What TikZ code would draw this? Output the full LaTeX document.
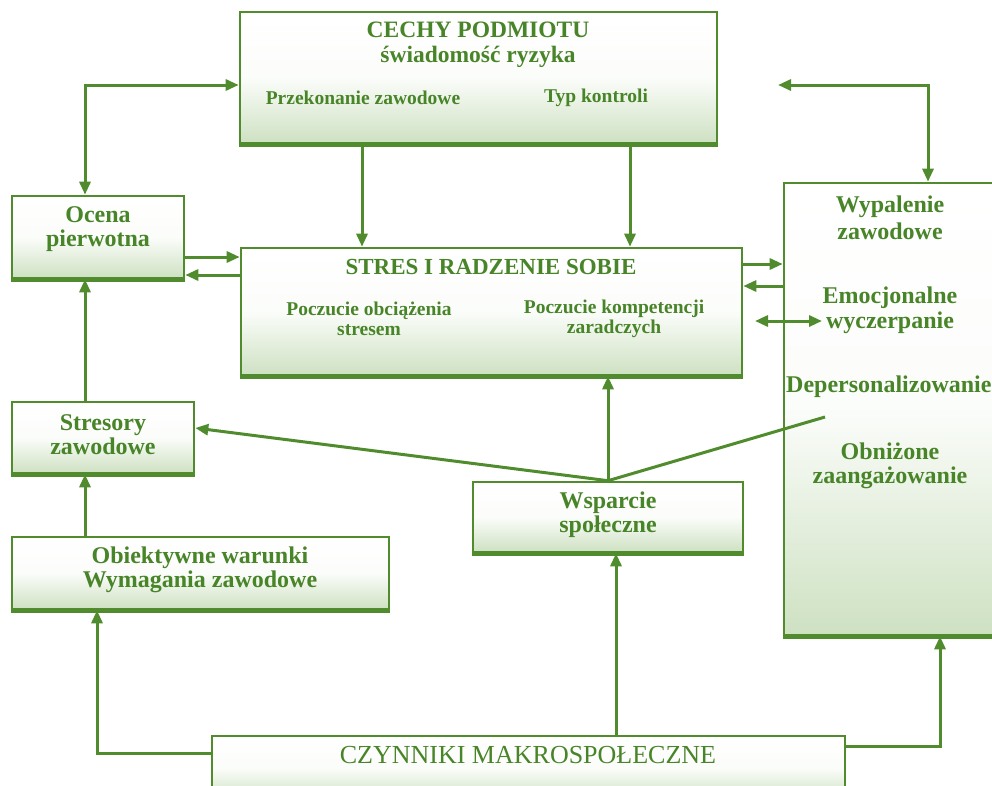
\documentclass[tikz,border=0pt]{standalone}
\usepackage{fontspec}
\setmainfont{Liberation Serif}
\usetikzlibrary{arrows.meta,calc}
\definecolor{gline}{RGB}{80,140,46}
\definecolor{gtext}{RGB}{72,132,40}
\definecolor{gbot}{RGB}{206,225,194}
\tikzset{
 boxnode/.style={draw=gline, line width=2.6pt, rectangle, inner sep=0pt, top color=white, bottom color=gbot, middle color=white!92!gbot},
 boxbase/.style={draw=gline, line width=4.5pt, line cap=butt},
 lbl/.style={text=gtext, font=\bfseries\fontsize{24}{24}\selectfont, align=center, inner sep=0pt},
 sublbl/.style={text=gtext, font=\bfseries\fontsize{19.5}{20.5}\selectfont, align=center, inner sep=0pt},
 conn/.style={draw=gline, line width=3pt},
 arr/.style={conn, -{Triangle[length=13pt,width=11pt]}},
 biarr/.style={conn, {Triangle[length=13pt,width=11pt]}-{Triangle[length=13pt,width=11pt]}},
}
\begin{document}
\begin{tikzpicture}[x=1pt,y=-1pt]
\useasboundingbox (0,0) rectangle (992,785);
% boxes
\node[boxnode, minimum width=477pt, minimum height=131pt] (cechy) at (478.5,77.5) {};
\node[boxnode, minimum width=172pt, minimum height=82pt] (ocena) at (98,237) {};
\node[boxnode, minimum width=501pt, minimum height=127pt] (stres) at (491.5,311.5) {};
\node[boxnode, minimum width=216pt, minimum height=452pt] (wyp) at (892,409) {};
\node[boxnode, minimum width=182pt, minimum height=71pt] (stresory) at (103,437.5) {};
\node[boxnode, minimum width=270pt, minimum height=70pt] (wsparcie) at (608,517) {};
\node[boxnode, minimum width=377pt, minimum height=72pt] (obiekt) at (200.5,573) {};
\node[boxnode, minimum width=633pt, minimum height=64pt] (czyn) at (528.5,768) {};
% thicker lower edges of the boxes
\foreach \b in {cechy,ocena,stres,wyp,stresory,wsparcie,obiekt}
  \draw[boxbase] (\b.south west) -- (\b.south east);
% texts
\node[lbl, font=\bfseries\fontsize{23.5}{24}\selectfont] (t1) at (478,30) {CECHY PODMIOTU};
\node[lbl, font=\bfseries\fontsize{23.5}{24}\selectfont] (t2) at (478,57) {świadomość ryzyka};
\node[sublbl] (t3) at (363,98) {Przekonanie zawodowe};
\node[sublbl] (t4) at (596,98) {Typ kontroli};
\node[lbl] (t5) at (98,229) {Ocena\\pierwotna};
\node[lbl, font=\bfseries\fontsize{23}{23}\selectfont] (t6) at (491,267) {STRES I RADZENIE SOBIE};
\node[sublbl] (t7) at (369,319) {Poczucie obciążenia\\stresem};
\node[sublbl] (t8) at (614,319) {Poczucie kompetencji\\zaradczych};
\node[lbl] (t9) at (103,435) {Stresory\\zawodowe};
\node[lbl] (t10) at (608,515) {Wsparcie\\społeczne};
\node[lbl] (t11) at (200,570) {Obiektywne warunki\\Wymagania zawodowe};
\node[text=gtext, font=\fontsize{26}{26}\selectfont, inner sep=0pt] (t12) at (528,755) {CZYNNIKI MAKROSPOŁECZNE};
\node[lbl, font=\bfseries\fontsize{24}{26.5}\selectfont] (t13) at (890,218) {Wypalenie\\zawodowe};
\node[lbl, font=\bfseries\fontsize{24}{25}\selectfont] (t14) at (890,310) {Emocjonalne\\wyczerpanie};
\node[lbl, anchor=west] (t15) at (786,387) {Depersonalizowanie};
\node[lbl] (t16) at (890,466) {Obniżone\\zaangażowanie};
% connectors
\coordinate (p1) at (85,85);
\draw[biarr] (cechy.west |- p1) -- (p1) -- (p1 |- ocena.north);
\coordinate (p2) at (928,85);
\coordinate (f2) at (778,85);
\draw[biarr] (f2) -- (p2) -- (p2 |- wyp.north);
\coordinate (xa) at (362,0);
\coordinate (xb) at (630,0);
\draw[arr] (cechy.south -| xa) -- (stres.north -| xa);
\draw[arr] (cechy.south -| xb) -- (stres.north -| xb);
\coordinate (ya) at (0,257);
\coordinate (yb) at (0,275);
\draw[arr] (ocena.east |- ya) -- (stres.west |- ya);
\draw[arr] (stres.west |- yb) -- (ocena.east |- yb);
\coordinate (yc) at (0,264);
\coordinate (yd) at (0,286);
\draw[arr] (stres.east |- yc) -- (wyp.west |- yc);
\draw[arr] (wyp.west |- yd) -- (stres.east |- yd);
\coordinate (d1) at (755,321);
\coordinate (d2) at (822,321);
\draw[biarr] (d1) -- (d2);
\draw[arr] (wsparcie.north) -- (wsparcie.north |- stres.south);
\coordinate (ys) at (0,428);
\draw[arr] (wsparcie.north) -- (stresory.east |- ys);
\coordinate (f3) at (825,417);
\draw[conn] (wsparcie.north) -- (f3);
\coordinate (xl) at (85,0);
\draw[arr] (stresory.north -| xl) -- (ocena.south -| xl);
\draw[arr] (obiekt.north -| xl) -- (stresory.south -| xl);
\coordinate (p3) at (97,753);
\draw[arr] (czyn.west |- p3) -- (p3) -- (p3 |- obiekt.south);
\coordinate (xw) at (616,0);
\draw[arr] (czyn.north -| xw) -- (wsparcie.south -| xw);
\coordinate (p4) at (940,746);
\draw[arr] (czyn.east |- p4) -- (p4) -- (p4 |- wyp.south);
\end{tikzpicture}
\end{document}
